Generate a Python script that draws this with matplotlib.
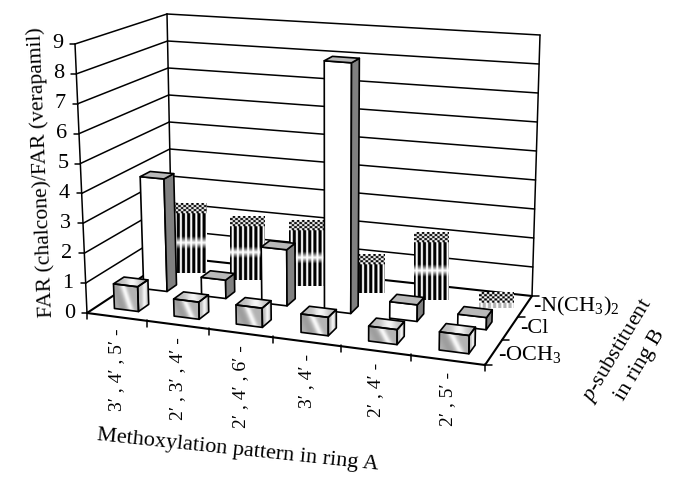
"""3-D style bar chart of FAR ratio by methoxylation pattern and p-substituent."""

import matplotlib
matplotlib.use("Agg")
import matplotlib.pyplot as plt
import numpy as np
from matplotlib.patches import Polygon

plt.rcParams["font.family"] = ["Liberation Serif", "DejaVu Serif"]
plt.rcParams["mathtext.fontset"] = "custom"
plt.rcParams["mathtext.rm"] = "Liberation Serif"
plt.rcParams["mathtext.it"] = "Liberation Serif:italic"
plt.rcParams["mathtext.default"] = "regular"

patterns = ["3′ , 4′ , 5′ -", "2′ , 3′ , 4′ -", "2′ , 4′ , 6′ -", "3′ , 4′ -", "2′ , 4′ -", "2′ , 5′ -"]
substituents = ["-OCH$_3$", "-Cl", "-N(CH$_3$)$_2$"]
far_och3 = [0.83, 0.57, 0.63, 0.6, 0.48, 0.58]
far_cl = [3.9, 0.63, 1.9, 8.4, 0.55, 0.4]
far_n = [2.2, 1.95, 2.0, 1.0, 2.0, 0.2]
y_ticks = list(range(10))
z_max = 9

# box corners in pixels: front-left, front-right, back-right, back-left
floor_px = [(87, 313), (485, 365), (532, 296), (172, 257)]
top_px = [(75, 44), (491, 78), (540, 35), (167, 14)]


def homography(quad):
    src = [(0, 0), (1, 0), (1, 1), (0, 1)]
    a, b = [], []
    for (u, v), (x, y) in zip(src, quad):
        a.append([u, v, 1, 0, 0, 0, -u * x, -v * x])
        a.append([0, 0, 0, u, v, 1, -u * y, -v * y])
        b += [x, y]
    return np.append(np.linalg.solve(np.array(a, float), np.array(b, float)), 1).reshape(3, 3)


H0 = homography(floor_px)
rise = np.array(top_px, float) - np.array(floor_px, float)


def project(u, v, z=0):
    q = H0 @ np.array([u, v, 1.0])
    r = (1 - v) * ((1 - u) * rise[0] + u * rise[1]) + v * (u * rise[2] + (1 - u) * rise[3])
    return tuple(q[:2] / q[2] + r * z / z_max)


fig = plt.figure(figsize=(6.76, 4.86), dpi=100)
ax = fig.add_axes([0, 0, 1, 1])
ax.axis("off")

LW = 1.1


def line(a, b, lw=LW):
    ax.plot([a[0], b[0]], [a[1], b[1]], color="black", lw=lw, solid_capstyle="round", zorder=1)


# walls and gridlines
for z in y_ticks:
    line(project(0, 0, z), project(0, 1, z), 1.5 if z == 0 else LW)
    line(project(0, 1, z), project(1, 1, z), 1.5 if z == 0 else LW)
    x, y = project(0, 0, z)
    line((x - 5, y), (x, y))
    ax.text(x - 12, y, str(z), ha="right", va="center", fontsize=16)
line(project(0, 0, 0), project(0, 0, z_max))
line(project(0, 1, 0), project(0, 1, z_max))
line(project(1, 1, 0), project(1, 1, z_max))
line(project(0, 0, 0), project(1, 0, 0), 1.5)
line(project(1, 0, 0), project(1, 1, 0), 1.5)

# ticks on the two floor axes
for i in range(len(patterns) + 1):
    x, y = project(i / len(patterns), 0)
    line((x, y - 1), (x, y + 6))
for j in range(len(substituents) + 1):
    x, y = project(1, j / len(substituents))
    line((x, y), (x + 7, y))


def face(pts, color, z):
    ax.add_patch(Polygon(pts, closed=True, fc=color, ec="black", lw=1.2, joinstyle="round", zorder=z))


def textured_face(pts, tex, z):
    pts = np.array(pts)
    x0, x1 = pts[:, 0].min(), pts[:, 0].max()
    y0, y1 = pts[:, 1].min(), pts[:, 1].max()
    poly = Polygon(pts, closed=True, fc="none", ec="black", lw=1.2, joinstyle="round", zorder=z + 0.1)
    ax.add_patch(poly)
    im = ax.imshow(tex, extent=(x0, x1, y1, y0), cmap="gray", vmin=0, vmax=1, aspect="auto",
                   interpolation="bilinear", zorder=z)
    im.set_clip_path(poly)


def streak_texture():
    xx, yy = np.meshgrid(np.linspace(0, 1, 40), np.linspace(0, 1, 40))
    t = xx + 0.35 * (1 - yy)
    tex = 0.7 + 0.27 * np.exp(-((t - 0.72) / 0.12) ** 2) - 0.08 * np.exp(-((t - 0.4) / 0.18) ** 2)
    return np.clip(tex, 0, 1)


def band_texture():
    xx = np.linspace(0, 1, 40)[None, :]
    return np.repeat(0.74 + 0.22 * np.exp(-((xx - 0.55) / 0.2) ** 2), 10, axis=0)


def box_corners(i, j):
    du, dv = 0.034, 0.058
    uc, vc = (i + 0.5) / len(patterns), (j + 0.5) / len(substituents)
    return uc - du, uc + du, vc - dv, vc + dv


def draw_plain_bar(i, j, val, z):
    a, b, c, d = box_corners(i, j)
    face([project(a, c, val), project(b, c, val), project(b, c), project(a, c)], "white", z)
    face([project(b, c, val), project(b, d, val), project(b, d), project(b, c)], "#808080", z)
    face([project(a, c, val), project(b, c, val), project(b, d, val), project(a, d, val)], "#b9b9b9", z)


def draw_gradient_bar(i, j, val, z):
    a, b, c, d = box_corners(i, j)
    textured_face([project(a, c, val), project(b, c, val), project(b, c), project(a, c)], streak_texture(), z)
    textured_face([project(b, c, val), project(b, d, val), project(b, d), project(b, c)], band_texture(), z)
    textured_face([project(a, c, val), project(b, c, val), project(b, d, val), project(a, d, val)], band_texture(), z)


def draw_striped_bar(i, j, val, z):
    # the dithered fill of the back row prints as a flat rectangle
    a, b, c, d = box_corners(i, j)
    left = project(a, c, val)[0] + 4
    right = project(b, d, val)[0] + 6
    top = project(a, d, val)[1]
    bottom = project(a, c)[1] + 3
    w, h = int(right - left) * 3, int(bottom - top) * 3
    xx, yy = np.meshgrid(np.arange(w) / 3, np.arange(h) / 3)
    stripes = (np.cos(2 * np.pi * xx / 5.0) > -0.3) * 1.0
    frac = yy / (bottom - top)
    head = yy < 10
    if val > 1.5:
        env = np.clip(np.abs(frac - 0.56) / 0.09, 0, 1)
    elif val > 0.5:
        env = np.ones_like(frac)
    else:
        env = np.full_like(frac, 0.3)
    tex = 1 - stripes * env
    checks = ((np.floor(xx / 2.5) + np.floor(yy / 2)) % 2 == 0) * 1.0
    tex[head] = checks[head]
    ax.imshow(tex, extent=(left, right, bottom, top), cmap="gray", vmin=0, vmax=1, aspect="auto",
              interpolation="bilinear", zorder=z)


for j, vals, draw in [(2, far_n, draw_striped_bar), (1, far_cl, draw_plain_bar), (0, far_och3, draw_gradient_bar)]:
    for i, val in enumerate(vals):
        draw(i, j, val, 3 + (2 - j) * 10 + i)

# tick labels and titles
for i, label in enumerate(patterns):
    x, y = project((i + 0.5) / len(patterns), 0)
    ax.text(x, y + 12, label, rotation=90, ha="center", va="top", fontsize=14)
sub_x = [498, 520, 533]
sub_y = [354, 328, 306]
for label, x, y in zip(substituents, sub_x, sub_y):
    ax.text(x, y, label, ha="left", va="center", fontsize=16)

ax.text(41, 172, "FAR (chalcone)/FAR (verapamil)", rotation=92.3, ha="center", va="center", fontsize=15.6)
ax.text(238, 450, "Methoxylation pattern in ring A", rotation=-6, ha="center", va="center",
        fontsize=16, rotation_mode="anchor")
ax.text(618, 350, "$\\mathit{p}$-substituent", rotation=59, ha="center", va="center",
        fontsize=16, rotation_mode="anchor")
ax.text(640, 365, "in ring B", rotation=59, ha="center", va="center",
        fontsize=16, rotation_mode="anchor")

ax.set_xlim(0, 676)
ax.set_ylim(486, 0)
fig.savefig("out.png", dpi=100)
